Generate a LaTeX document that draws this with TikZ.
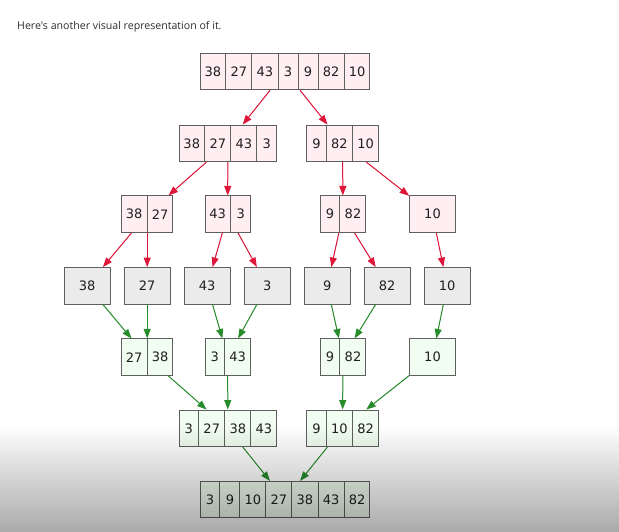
\documentclass[tikz,border=0pt]{standalone}
\usepackage{fontspec}
\setmainfont{DejaVu Sans}
\newfontfamily\headfont{Open Sans}
\usetikzlibrary{shapes.multipart, arrows.meta, positioning, fadings}
\definecolor{SplitFill}{RGB}{255, 238, 242}
\definecolor{LeafFill}{RGB}{235, 235, 235}
\definecolor{MergeFill}{RGB}{240, 253, 240}
\definecolor{Border}{RGB}{95, 95, 95}
\definecolor{SplitArrow}{RGB}{222, 22, 58}
\definecolor{MergeArrow}{RGB}{40, 140, 45}
\definecolor{HeadText}{RGB}{45, 45, 45}
\tikzfading[name=shadedown, top color=transparent!100, bottom color=transparent!0]
% one digit cells are a bit wider than the digit
\newcommand{\onedig}[1]{\makebox[10.5pt]{#1}}

\begin{document}
\begin{tikzpicture}[x=1pt, y=-1pt,
        arr/.style={rectangle split, rectangle split horizontal, draw=Border, line width=1pt,
            minimum height=36.5pt, inner xsep=4.25pt, text=black!88, font=\fontsize{13}{15}\selectfont},
        single/.style={rectangle, draw=Border, line width=1pt, minimum height=36.5pt,
            minimum width=45.7pt, text=black!88, font=\fontsize{13}{15}\selectfont},
        split/.style={-{Triangle[length=9.5pt, width=7pt]}, draw=SplitArrow, fill=SplitArrow, line width=1pt},
        merge/.style={-{Triangle[length=9.5pt, width=7pt]}, draw=MergeArrow, fill=MergeArrow, line width=1pt}]
        \useasboundingbox (0, 0) rectangle (619, 532);
        \fill[white] (0, 0) rectangle (619, 532);

        % Heading
        \node[anchor=base west, inner sep=0pt, text=HeadText, font=\headfont\fontsize{10.6}{13}\selectfont] (head) at (17, 29.5) {Here's another visual representation of it.};

        % Split rows
        \node[arr, fill=SplitFill, rectangle split parts=7] (all) at (285, 71.5) {38\nodepart{two}27\nodepart{three}43\nodepart{four}\onedig{3}\nodepart{five}\onedig{9}\nodepart{six}82\nodepart{seven}10};

        \node[arr, fill=SplitFill, rectangle split parts=4] (left) at (227.8, 143.3) {38\nodepart{two}27\nodepart{three}43\nodepart{four}\onedig{3}};
        \node[arr, fill=SplitFill, rectangle split parts=3] (right) at (342.5, 143.3) {\onedig{9}\nodepart{two}82\nodepart{three}10};

        \node[arr, fill=SplitFill, rectangle split parts=2] (ll) at (147.2, 214.2) {38\nodepart{two}27};
        \node[arr, fill=SplitFill, rectangle split parts=2] (lr) at (227.7, 214.2) {43\nodepart{two}\onedig{3}};
        \node[arr, fill=SplitFill, rectangle split parts=2] (rl) at (343, 214.2) {\onedig{9}\nodepart{two}82};
        \node[single, fill=SplitFill] (rr) at (432.5, 214.2) {10};

        % Leaves
        \node[single, fill=LeafFill] (a) at (87.2, 285.8) {38};
        \node[single, fill=LeafFill] (b) at (147.2, 285.8) {27};
        \node[single, fill=LeafFill] (c) at (207.2, 285.8) {43};
        \node[single, fill=LeafFill] (d) at (267.2, 285.8) {3};
        \node[single, fill=LeafFill] (e) at (327.2, 285.8) {9};
        \node[single, fill=LeafFill] (f) at (387.2, 285.8) {82};
        \node[single, fill=LeafFill] (g) at (447.2, 285.8) {10};

        % Merge rows
        \node[arr, fill=MergeFill, rectangle split parts=2] (mll) at (147.2, 357.2) {27\nodepart{two}38};
        \node[arr, fill=MergeFill, rectangle split parts=2] (mlr) at (227.7, 357.2) {\onedig{3}\nodepart{two}43};
        \node[arr, fill=MergeFill, rectangle split parts=2] (mrl) at (343, 357.2) {\onedig{9}\nodepart{two}82};
        \node[single, fill=MergeFill] (mrr) at (432.5, 357.2) {10};

        \node[arr, fill=MergeFill, rectangle split parts=4] (mleft) at (227.8, 428.3) {\onedig{3}\nodepart{two}27\nodepart{three}38\nodepart{four}43};
        \node[arr, fill=MergeFill, rectangle split parts=3] (mright) at (342.5, 428.3) {\onedig{9}\nodepart{two}10\nodepart{three}82};

        \node[arr, fill=MergeFill, rectangle split parts=7] (sorted) at (285, 499.7) {\onedig{3}\nodepart{two}\onedig{9}\nodepart{three}10\nodepart{four}27\nodepart{five}38\nodepart{six}43\nodepart{seven}82};

        % Arrows down (split)
        \draw[split] (all) -- (left);
        \draw[split] (all) -- (right);
        \draw[split] (left) -- (ll);
        \draw[split] (left) -- (lr);
        \draw[split] (right) -- (rl);
        \draw[split] (right) -- (rr);
        \draw[split] (ll) -- (a);
        \draw[split] (ll) -- (b);
        \draw[split] (lr) -- (c);
        \draw[split] (lr) -- (d);
        \draw[split] (rl) -- (e);
        \draw[split] (rl) -- (f);
        \draw[split] (rr) -- (g);

        % Arrows down (merge)
        \draw[merge] (a) -- (mll);
        \draw[merge] (b) -- (mll);
        \draw[merge] (c) -- (mlr);
        \draw[merge] (d) -- (mlr);
        \draw[merge] (e) -- (mrl);
        \draw[merge] (f) -- (mrl);
        \draw[merge] (g) -- (mrr);
        \draw[merge] (mll) -- (mleft);
        \draw[merge] (mlr) -- (mleft);
        \draw[merge] (mrl) -- (mright);
        \draw[merge] (mrr) -- (mright);
        \draw[merge] (mleft) -- (sorted);
        \draw[merge] (mright) -- (sorted);

        % Shadow at the bottom
        \fill[black, fill opacity=0.34, path fading=shadedown] (0, 425) rectangle (619, 534);
    \end{tikzpicture}
\end{document}
